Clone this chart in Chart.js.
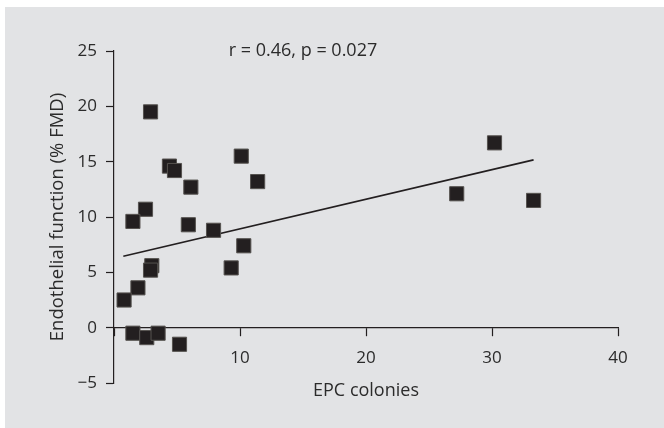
<!DOCTYPE html>
<html>
<head>
<meta charset="utf-8">
<script src="https://cdn.jsdelivr.net/npm/chart.js@4.4.1/dist/chart.umd.min.js"></script>
<style>
  body { margin: 0; background: #fff; }
  #bg { position: absolute; left: 5px; top: 7px; right: 0; bottom: 0; background: #e2e3e5; }
  #wrap { position: absolute; left: 0; top: 0; width: 664px; height: 428px; }
</style>
</head>
<body>
<div id="bg"></div>
<div id="wrap"><canvas id="chart"></canvas></div>
<script>
// data
const epcColonies = [2.9, 4.4, 4.8, 6.1, 2.5, 1.5, 5.9, 7.9, 3.0, 2.9, 1.9, 0.8, 1.5, 2.6, 3.5, 5.2, 10.1, 11.4, 10.3, 9.3, 30.2, 27.2, 33.3];
const fmd = [19.5, 14.6, 14.2, 12.7, 10.7, 9.6, 9.3, 8.8, 5.6, 5.2, 3.6, 2.5, -0.5, -0.9, -0.5, -1.5, 15.5, 13.2, 7.4, 5.4, 16.7, 12.1, 11.5];
const fitX = [0.74, 33.3];
const fitY = [6.46, 15.16];
const xTicks = [0, 10, 20, 30, 40];
const yTicks = [-5, 0, 5, 10, 15, 20, 25];

const ink = '#231f20';
const textCol = '#2b2b2b';
const font = 'Open Sans';

//statistic text near the top
const statLabel = {
    id: 'statLabel',
    afterDraw(c) {
        const ctx = c.ctx;
        ctx.save();
        ctx.font = '18px "' + font + '"';
        ctx.fillStyle = textCol;
        ctx.textAlign = 'center';
        ctx.textBaseline = 'middle';
        ctx.fillText('r = 0.46, p = 0.027', c.scales.x.getPixelForValue(15), c.scales.y.getPixelForValue(25));
        ctx.restore();
    }
};

const chart = document.querySelector('#chart').getContext('2d');
new Chart(chart, {
    type: 'scatter',
    data: {
        datasets: [
            {
                data: epcColonies.map((v, i) => ({x: v, y: fmd[i]})),
                pointStyle: 'rect',
                pointRadius: 10,
                backgroundColor: ink,
                borderColor: '#55524f',
                borderWidth: 1
            },
            {
                type: 'line',
                data: fitX.map((v, i) => ({x: v, y: fitY[i]})),
                borderColor: ink,
                borderWidth: 1.6,
                pointRadius: 0,
                fill: false
            }
        ]
    },
    options: {
        responsive: true,
        maintainAspectRatio: false,
        animation: false,
        layout: { padding: { left: 0, top: 51, right: 46, bottom: 45 } },
        plugins: { legend: { display: false }, tooltip: { enabled: false } },
        scales: {
            x: {
                type: 'linear',
                position: { y: 0 },
                min: 0, max: 40,
                afterBuildTicks: s => { s.ticks = xTicks.map(v => ({value: v})); },
                ticks: {
                    color: textCol,
                    font: { family: font, size: 17 },
                    padding: 12,
                    maxRotation: 0,
                    callback: v => v === 0 ? '' : v
                },
                grid: { drawOnChartArea: false, tickLength: 8, color: ink, tickWidth: 1.2 },
                border: { color: ink, width: 1.2 },
                title: {
                    display: true,
                    text: 'EPC colonies',
                    color: textCol,
                    font: { family: font, size: 18 },
                    padding: { top: 0, bottom: 4 }
                }
            },
            y: {
                min: -5, max: 25,
                afterBuildTicks: s => { s.ticks = yTicks.map(v => ({value: v})); },
                afterFit: s => { s.width = 114; },
                ticks: {
                    color: textCol,
                    font: { family: font, size: 17 },
                    padding: 9,
                    callback: v => v < 0 ? '\u2212' + Math.abs(v) : v
                },
                grid: { drawOnChartArea: false, tickLength: 8, color: ink, tickWidth: 1.2 },
                border: { color: ink, width: 1.2 },
                title: {
                    display: true,
                    text: 'Endothelial function (% FMD)',
                    color: textCol,
                    font: { family: font, size: 18.5 },
                    padding: { top: 47, bottom: 0 }
                }
            }
        }
    },
    plugins: [statLabel]
});
</script>
</body>
</html>
